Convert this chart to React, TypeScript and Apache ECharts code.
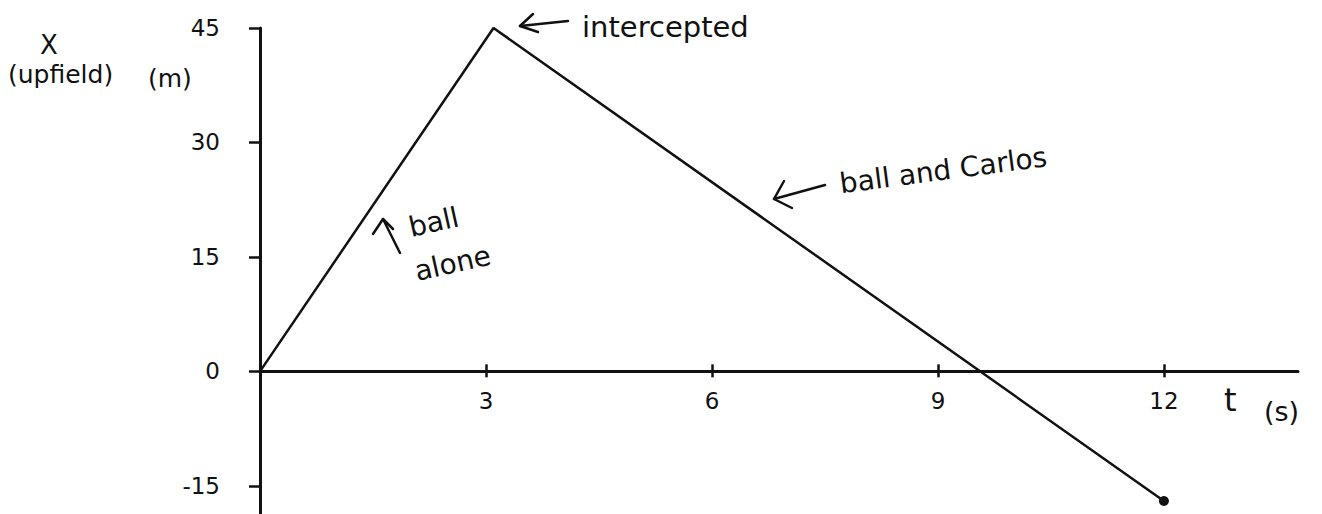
import React, { useEffect, useRef } from "react";
import * as echarts from "echarts";

const times = [0, 3.1, 12];
const positions = [0, 45, -17];
const xTickValues = [3, 6, 9, 12];
const yTickValues = [-15, 0, 15, 30, 45];

const FONT = "DejaVu Sans";
const X_MIN = 0;
const X_MAX = 13.78;
const Y_MIN = -18.7;
const Y_MAX = 45;

export default function App() {
  const ref = useRef<HTMLDivElement>(null);
  useEffect(() => {
    if (!ref.current) return;
    const chart = echarts.init(ref.current, null, { renderer: "svg" });
    const data = times.map((t, i) =>
      i === times.length - 1
        ? { value: [t, positions[i]], symbolSize: 10 }
        : { value: [t, positions[i]], symbolSize: 0 }
    );
    const arrowStyle = { stroke: "#111", lineWidth: 2.5, fill: "none", lineCap: "round", lineJoin: "round" };
    const gridTop = 28;
    const gridH = 514 - gridTop;
    const zeroOffset = (gridH * (0 - Y_MIN)) / (Y_MAX - Y_MIN);
    chart.setOption({
      animation: false,
      backgroundColor: "#fff",
      grid: { left: 260, right: 24, top: gridTop, bottom: 0, containLabel: false, outerBoundsMode: "none" },
      xAxis: [
        {
          type: "value",
          min: X_MIN,
          max: X_MAX,
          axisLine: { onZero: true, lineStyle: { color: "#111", width: 3 } },
          axisTick: { show: true, customValues: xTickValues, length: 6, inside: false, lineStyle: { color: "#111", width: 2.5 } },
          axisLabel: { show: false },
          splitLine: { show: false },
        },
        {
          type: "value",
          position: "bottom",
          offset: -zeroOffset,
          min: X_MIN,
          max: X_MAX,
          axisLine: { show: false, onZero: false },
          axisTick: { show: true, customValues: xTickValues, inside: true, length: 7, lineStyle: { color: "#111", width: 2.5 } },
          axisLabel: { customValues: xTickValues, margin: 18, color: "#111", fontSize: 23, fontFamily: FONT },
          splitLine: { show: false },
        },
      ],
      yAxis: {
        type: "value",
        min: Y_MIN,
        max: Y_MAX,
        axisLine: { show: true, onZero: false, lineStyle: { color: "#111", width: 3 } },
        axisTick: { show: true, customValues: yTickValues, length: 11, lineStyle: { color: "#111", width: 2.5 } },
        axisLabel: { customValues: yTickValues, margin: 40, color: "#111", fontSize: 23, fontFamily: FONT },
        splitLine: { show: false },
      },
      series: [
        {
          type: "line",
          xAxisIndex: 0,
          data,
          symbol: "circle",
          lineStyle: { color: "#111", width: 2.5 },
          itemStyle: { color: "#111" },
          silent: true,
        },
      ],
      graphic: [
        { type: "text", left: 40, top: 32, style: { text: "X", fontSize: 26, fontFamily: FONT, fill: "#111" } },
        { type: "text", left: 8, top: 62, style: { text: "(upfield)", fontSize: 25, fontFamily: FONT, fill: "#111" } },
        { type: "text", left: 148, top: 66, style: { text: "(m)", fontSize: 25, fontFamily: FONT, fill: "#111" } },
        { type: "text", left: 1224, top: 384, style: { text: "t", fontSize: 32, fontFamily: FONT, fill: "#111" } },
        { type: "text", left: 1264, top: 398, style: { text: "(s)", fontSize: 27, fontFamily: FONT, fill: "#111" } },
        { type: "polyline", shape: { points: [[568, 21], [520, 26]] }, style: arrowStyle },
        { type: "polyline", shape: { points: [[533, 14], [520, 26], [538, 32]] }, style: arrowStyle },
        { type: "text", x: 582, y: 12, style: { text: "intercepted", fontSize: 29, fontFamily: FONT, fill: "#111" } },
        { type: "polyline", shape: { points: [[825, 185], [774, 199]] }, style: arrowStyle },
        { type: "polyline", shape: { points: [[784, 181], [774, 199], [792, 208]] }, style: arrowStyle },
        { type: "text", x: 838, y: 170, rotation: 0.13, style: { text: "ball and Carlos", fontSize: 28, fontFamily: FONT, fill: "#111" } },
        { type: "polyline", shape: { points: [[400, 253], [383, 219]] }, style: arrowStyle },
        { type: "polyline", shape: { points: [[373, 234], [383, 219], [393, 229]] }, style: arrowStyle },
        { type: "text", x: 406, y: 214, rotation: 0.22, style: { text: "ball", fontSize: 28, fontFamily: FONT, fill: "#111" } },
        { type: "text", x: 412, y: 258, rotation: 0.22, style: { text: "alone", fontSize: 28, fontFamily: FONT, fill: "#111" } },
      ],
    });
    return () => chart.dispose();
  }, []);
  return (
    <div
      ref={ref}
      style={{ position: "fixed", left: 0, top: 0, width: 1322, height: 514 }}
    />
  );
}
